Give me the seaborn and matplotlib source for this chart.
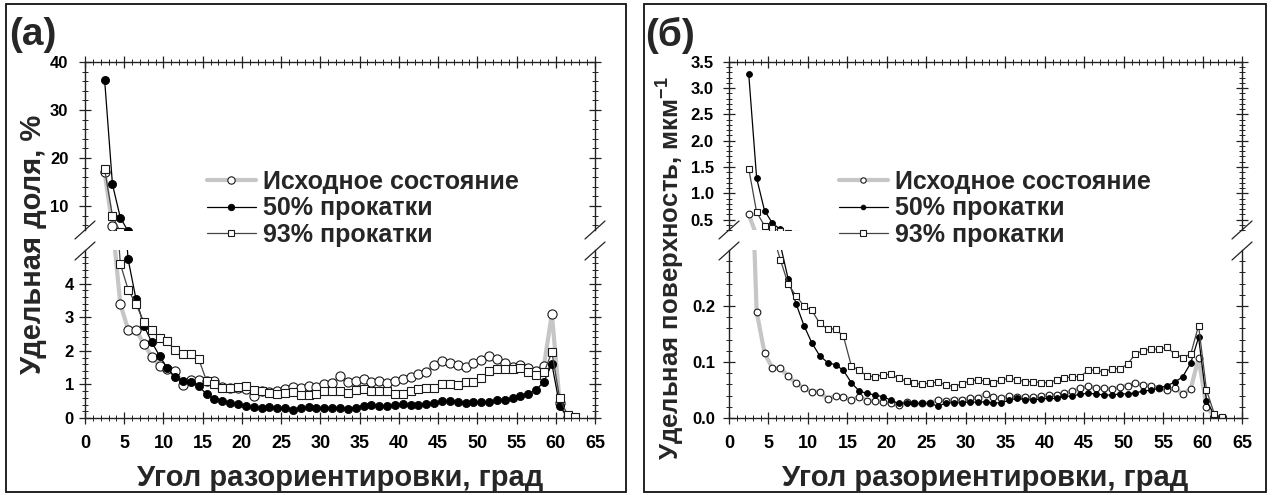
import numpy as np
import matplotlib
matplotlib.use('Agg')
import matplotlib.pyplot as plt
from matplotlib.lines import Line2D
from matplotlib.patches import Rectangle
from matplotlib.ticker import MultipleLocator, FixedLocator
import seaborn as sns

# ---------------- data ----------------
angles = [2.5, 3.5, 4.5, 5.5, 6.5, 7.5, 8.5, 9.5, 10.5, 11.5, 12.5, 13.5, 14.5, 15.5,
          16.5, 17.5, 18.5, 19.5, 20.5, 21.5, 22.5, 23.5, 24.5, 25.5, 26.5, 27.5, 28.5,
          29.5, 30.5, 31.5, 32.5, 33.5, 34.5, 35.5, 36.5, 37.5, 38.5, 39.5, 40.5, 41.5,
          42.5, 43.5, 44.5, 45.5, 46.5, 47.5, 48.5, 49.5, 50.5, 51.5, 52.5, 53.5, 54.5,
          55.5, 56.5, 57.5, 58.5, 59.5, 60.5, 61.5, 62.5]

labels = ["Исходное состояние", "50% прокатки", "93% прокатки"]

# panel (а): fraction, %
a_initial = [17.0, 5.8, 3.39, 2.63, 2.63, 2.2, 1.83, 1.55, 1.45, 1.4, 0.98, 1.13, 1.13, 1.1,
             1.1, 0.93, 0.9, 0.9, 0.85, 0.66, 0.8, 0.78, 0.8, 0.85, 0.93, 0.88, 0.95,
             0.93, 1.0, 1.05, 1.25, 1.06, 1.1, 1.16, 1.06, 1.11, 1.03, 1.1, 1.17, 1.23,
             1.3, 1.36, 1.58, 1.71, 1.63, 1.58, 1.51, 1.65, 1.73, 1.85, 1.76, 1.65, 1.53,
             1.58, 1.48, 1.4, 1.56, 3.1, 0.45, 0.02, np.nan]
a_rolled50 = [36.3, 14.5, 7.6, 4.72, 3.54, 2.75, 2.26, 1.85, 1.48, 1.21, 1.11, 1.06, 0.94, 0.71,
              0.57, 0.51, 0.44, 0.41, 0.36, 0.34, 0.31, 0.33, 0.29, 0.29, 0.24, 0.29, 0.32,
              0.31, 0.29, 0.29, 0.31, 0.27, 0.31, 0.36, 0.39, 0.36, 0.36, 0.39, 0.41, 0.39,
              0.39, 0.41, 0.46, 0.51, 0.51, 0.48, 0.46, 0.48, 0.48, 0.48, 0.54, 0.54, 0.59,
              0.64, 0.72, 0.84, 1.08, 1.61, 0.36, 0.03, np.nan]
a_rolled93 = [17.7, 7.9, 4.59, 3.82, 3.39, 2.86, 2.63, 2.38, 2.28, 2.01, 1.9, 1.9, 1.75, 1.1,
              1.01, 0.89, 0.89, 0.92, 0.94, 0.84, 0.79, 0.74, 0.72, 0.74, 0.76, 0.69, 0.69,
              0.72, 0.79, 0.81, 0.81, 0.74, 0.84, 0.86, 0.81, 0.79, 0.79, 0.72, 0.72, 0.8,
              0.86, 0.89, 0.89, 1.01, 1.01, 0.99, 1.06, 1.08, 1.18, 1.4, 1.45, 1.45, 1.45,
              1.5, 1.38, 1.28, 1.36, 1.96, 0.59, 0.09, 0.02]

# panel (б): specific surface, 1/um
b_initial = [0.60, 0.19, 0.116, 0.089, 0.089, 0.075, 0.062, 0.053, 0.047, 0.047, 0.034, 0.040,
             0.038, 0.032, 0.038, 0.031, 0.031, 0.029, 0.026, 0.023, 0.028, 0.026, 0.026,
             0.027, 0.032, 0.031, 0.033, 0.033, 0.035, 0.036, 0.043, 0.037, 0.035, 0.039,
             0.038, 0.037, 0.037, 0.039, 0.041, 0.041, 0.045, 0.048, 0.053, 0.057, 0.054,
             0.053, 0.051, 0.056, 0.058, 0.062, 0.059, 0.058, 0.053, 0.050, 0.053, 0.043,
             0.052, 0.107, 0.019, 0.003, np.nan]
b_rolled50 = [3.27, 1.29, 0.67, 0.43, 0.31, 0.248, 0.204, 0.165, 0.134, 0.111, 0.099, 0.095,
              0.085, 0.063, 0.048, 0.044, 0.041, 0.038, 0.032, 0.026, 0.027, 0.026, 0.026,
              0.026, 0.021, 0.027, 0.027, 0.027, 0.029, 0.028, 0.029, 0.027, 0.027, 0.032,
              0.035, 0.033, 0.032, 0.034, 0.035, 0.035, 0.039, 0.039, 0.043, 0.044, 0.043,
              0.041, 0.041, 0.043, 0.043, 0.045, 0.048, 0.050, 0.053, 0.058, 0.064, 0.074,
              0.098, 0.144, 0.031, 0.005, np.nan]
b_rolled93 = [1.47, 0.64, 0.38, 0.33, 0.283, 0.239, 0.218, 0.200, 0.192, 0.169, 0.159, 0.159,
              0.146, 0.093, 0.085, 0.075, 0.074, 0.077, 0.078, 0.071, 0.066, 0.062, 0.060,
              0.063, 0.064, 0.059, 0.056, 0.061, 0.066, 0.068, 0.066, 0.063, 0.068, 0.071,
              0.068, 0.065, 0.065, 0.063, 0.063, 0.068, 0.071, 0.074, 0.074, 0.085, 0.086,
              0.082, 0.088, 0.088, 0.096, 0.115, 0.120, 0.123, 0.123, 0.126, 0.114, 0.108,
              0.114, 0.165, 0.050, 0.007, 0.001]

x_ticks = [0, 5, 10, 15, 20, 25, 30, 35, 40, 45, 50, 55, 60, 65]
a_upper_ticks = [10, 20, 30, 40]
a_lower_ticks = [0, 1, 2, 3, 4]
b_upper_ticks = [0.5, 1.0, 1.5, 2.0, 2.5, 3.0, 3.5]
b_lower_ticks = [0.0, 0.1, 0.2]

# ---------------- style ----------------
sns.set_style('ticks')
plt.rcParams['font.family'] = ['Liberation Sans', 'DejaVu Sans']
plt.rcParams['font.weight'] = 'bold'
plt.rcParams['mathtext.fontset'] = 'custom'
plt.rcParams['mathtext.rm'] = 'Liberation Sans:bold'
plt.rcParams['mathtext.bf'] = 'Liberation Sans:bold'
plt.rcParams['mathtext.default'] = 'bf'

W, H = 1272, 495
fig = plt.figure(figsize=(W / 100, H / 100), dpi=100)


def frac(l, t, r, b):
    return [l / W, 1 - b / H, (r - l) / W, (b - t) / H]


def series_styles(scale):
    return [
        dict(color='#c6c6c6', linewidth=3.0, marker='o', markersize=5.9 * scale,
             markerfacecolor='white', markeredgecolor='#1a1a1a', markeredgewidth=0.8),
        dict(color='black', linewidth=0.9, marker='o', markersize=5.2 * scale,
             markerfacecolor='black', markeredgecolor='black', markeredgewidth=0.6),
        dict(color='#444444', linewidth=0.9, marker='s', markersize=5.5 * scale,
             markerfacecolor='white', markeredgecolor='#1a1a1a', markeredgewidth=0.8),
    ]


def style_axis(ax, part, ylims, majors, minor, ypad):
    ax.set_xlim(0, 65)
    ax.set_ylim(*ylims)
    ax.xaxis.set_major_locator(FixedLocator(x_ticks))
    ax.xaxis.set_minor_locator(MultipleLocator(1))
    ax.yaxis.set_major_locator(FixedLocator(majors))
    ax.yaxis.set_minor_locator(FixedLocator(minor))
    for s in ax.spines.values():
        s.set_color('#222222')
        s.set_linewidth(1.0)
    ax.tick_params(which='both', direction='inout', colors='#222222', right=True, left=True)
    ax.tick_params(which='major', length=8, width=0.9)
    ax.tick_params(which='minor', length=5, width=0.7)
    ax.tick_params(axis='y', labelsize=12, pad=ypad, labelcolor='black')
    if part == 'upper':
        ax.spines['bottom'].set_visible(False)
        ax.tick_params(axis='x', which='both', bottom=False, labelbottom=False, top=True)
    else:
        ax.spines['top'].set_visible(False)
        ax.tick_params(axis='x', which='both', top=False, bottom=True)
        ax.tick_params(axis='x', labelsize=13, pad=8.5, labelcolor='black')
    for lab in ax.get_xticklabels() + ax.get_yticklabels():
        lab.set_fontweight('bold')
    ax.set_xlabel('')
    ax.set_ylabel('')
    ax.set_facecolor('white')


def draw(ax, data, scale):
    for vals, st in zip(data, series_styles(scale)):
        sns.lineplot(x=angles, y=vals, ax=ax, estimator=None, sort=False, legend=False, **st)


def slash(cx, cy, dx=10, dy=9):
    fig.add_artist(Line2D([(cx - dx) / W, (cx + dx) / W], [1 - (cy + dy) / H, 1 - (cy - dy) / H],
                          color='#222222', lw=0.9))


panels = [
    dict(l=85, r=595, data=[a_initial, a_rolled50, a_rolled93], scale=1.12,
         up=(5, 40), up_major=a_upper_ticks, up_minor=list(range(6, 41, 2)), up_pad=8,
         lo=(0, 5), lo_major=a_lower_ticks, lo_minor=[i / 5 for i in range(0, 25)], lo_pad=4,
         ylabel="Удельная доля, %", ylab_size=21, ylab_xy=(33, 244), letter="(а)", letter_x=9,
         frame=(6, 4, 626, 492), leg_x=207),
    dict(l=729, r=1242, data=[b_initial, b_rolled50, b_rolled93], scale=0.82,
         up=(0.3, 3.5), up_major=b_upper_ticks, up_minor=[i / 10 for i in range(3, 36)], up_pad=7,
         lo=(0, 0.3), lo_major=b_lower_ticks, lo_minor=[i / 50 for i in range(0, 15)], lo_pad=6,
         ylabel="Удельная поверхность, мкм$^{-1}$", ylab_size=18.5, ylab_xy=(671, 268),
         letter="(б)", letter_x=645, frame=(644, 4, 1266, 492), leg_x=839),
]

for p in panels:
    ax_up = fig.add_axes(frac(p['l'], 62, p['r'], 230))
    ax_lo = fig.add_axes(frac(p['l'], 250, p['r'], 418))
    draw(ax_up, p['data'], p['scale'])
    draw(ax_lo, p['data'], p['scale'])
    style_axis(ax_up, 'upper', p['up'], p['up_major'], p['up_minor'], p['up_pad'])
    style_axis(ax_lo, 'lower', p['lo'], p['lo_major'], p['lo_minor'], p['lo_pad'])

    # break marks
    for cx in (p['l'], p['r']):
        slash(cx, 230)
        slash(cx, 251)

    # labels
    fig.text(p['ylab_xy'][0] / W, 1 - p['ylab_xy'][1] / H, p['ylabel'], rotation=90,
             ha='center', va='center', fontsize=p['ylab_size'], fontweight='bold')
    fig.text(((p['l'] + p['r']) / 2) / W, 1 - 478 / H, "Угол разориентировки, град",
             ha='center', va='center', fontsize=21, fontweight='bold')
    fig.text(p['letter_x'] / W, 1 - 35 / H, p['letter'], ha='left', va='center',
             fontsize=28, fontweight='bold')

    # frame
    l, t, r, b = p['frame']
    fig.add_artist(Rectangle((l / W, 1 - b / H), (r - l) / W, (b - t) / H, transform=fig.transFigure,
                             fill=False, edgecolor='#111111', lw=1.3))

    # legend
    handles = [Line2D([], [], **st) for st in series_styles(p['scale'] * 0.8)]
    fig.legend(handles, labels, loc='upper left', bbox_to_anchor=(p['leg_x'] / W, 1 - 170 / H),
               frameon=False, prop={'size': 18, 'weight': 'bold'}, handlelength=1.95,
               handletextpad=0.3, labelspacing=0.1, borderpad=0, borderaxespad=0)

fig.savefig('out.png', dpi=100, facecolor='white')
